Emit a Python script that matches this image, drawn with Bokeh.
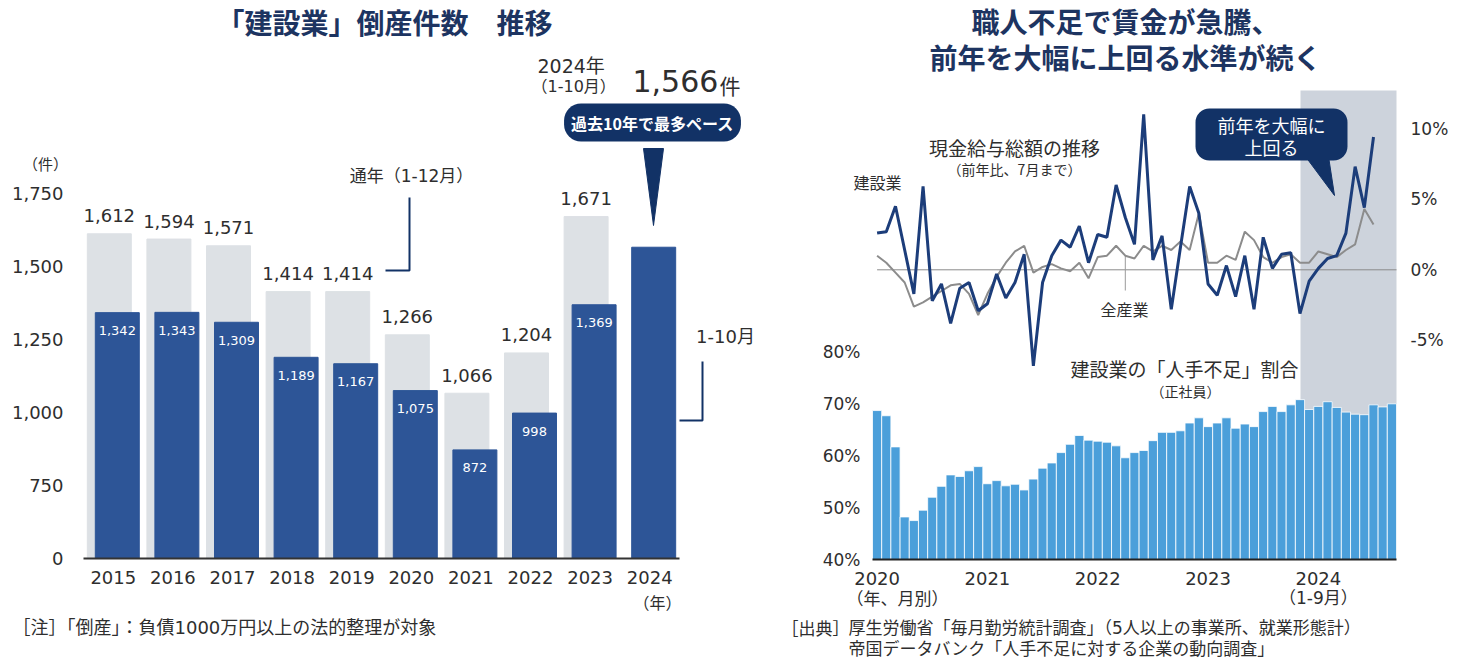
from bokeh.plotting import figure
from bokeh.models import Range1d, FixedTicker, Label, BoxAnnotation, LinearAxis, NumeralTickFormatter
from bokeh.layouts import row
from bokeh.embed import file_html
from bokeh.resources import INLINE
from bokeh.core.properties import value
import numpy as np

JP = "Noto Sans CJK JP"
NUM = "'DejaVu Sans', 'Noto Sans CJK JP'"
NAVY = "#123266"
TITLE_C = "#1d3461"
TXT = "#2e2e2e"

# ---------------- data: left chart ----------------
years = ["2015", "2016", "2017", "2018", "2019", "2020", "2021", "2022", "2023", "2024"]
full_year = [1612, 1594, 1571, 1414, 1414, 1266, 1066, 1204, 1671]          # 通年 (1-12月), 2015-2023
jan_oct = [1342, 1343, 1309, 1189, 1167, 1075, 872, 998, 1369, 1566]       # 1-10月
left_ticks = [500, 750, 1000, 1250, 1500, 1750]   # broken axis: the 500 position is labelled 0

# ---------------- data: right chart ----------------
tick_years = ["2020", "2021", "2022", "2023", "2024"]
wage_construction = [2.6, 2.7, 4.5, 1.4, -1.7, 5.9, -2.2, -1.0, -3.8, -1.3, -0.9, -2.9,
                     -2.4, -0.3, -2.0, -0.9, 1.1, -6.8, -0.9, 1.0, 2.1, 1.6, 3.1, 0.5,
                     2.5, 2.3, 6.0, 3.7, 1.8, 11.0, 0.7, 2.4, -2.8, 1.6, 5.9, 4.0,
                     -1.0, -1.8, 0.3, -1.9, 1.0, -2.8, 2.3, 0.1, 1.1, 1.2, -3.1, -0.8,
                     0.1, 0.8, 1.0, 2.6, 7.3, 4.4, 9.4]
wage_all = [1.0, 0.5, -0.2, -0.9, -2.6, -2.3, -1.9, -1.5, -1.1, -1.0, -1.7, -3.2,
            -1.7, -0.5, 0.5, 1.3, 1.7, -0.2, 0.2, 0.4, 0.1, -0.1, 0.5, -0.6,
            0.9, 1.0, 1.7, 1.0, 0.8, 1.7, 1.3, 1.7, 1.4, 2.0, 1.4, 4.0,
            0.5, 0.5, 1.0, 0.7, 2.7, 2.1, 0.9, 0.5, 0.9, 1.1, 0.5, 0.5,
            1.3, 1.1, 0.9, 1.4, 1.8, 4.3, 3.2]
shortage = [68.7, 67.7, 61.7, 48.2, 47.5, 49.5, 52.0, 54.1, 56.3, 56.0, 57.1, 57.9,
            54.6, 55.2, 54.2, 54.5, 53.4, 55.5, 57.6, 58.6, 60.6, 62.2, 63.9, 63.0,
            62.8, 62.6, 61.9, 59.6, 60.6, 61.0, 62.9, 64.5, 64.5, 64.8, 66.3, 67.3,
            65.6, 66.3, 67.3, 65.3, 66.1, 65.6, 68.5, 69.5, 68.5, 69.8, 70.8, 68.9,
            69.5, 70.4, 69.3, 68.4, 68.0, 67.9, 69.8, 69.4, 70.0]
pct_ticks = [40, 50, 60, 70, 80]
chg_ticks = [-5, 0, 5, 10]

H = 665
W1 = 780
W2 = 1457 - W1


def style_axis(ax, size="18px", font=NUM):
    ax.major_tick_line_color = None
    ax.minor_tick_line_color = None
    ax.major_tick_out = 0
    ax.major_tick_in = 0
    ax.minor_tick_out = 0
    ax.minor_tick_in = 0
    ax.major_label_text_font = font
    ax.major_label_text_font_size = size
    ax.major_label_text_color = TXT


def lab(p, x, y, text, size, color=TXT, align="center", baseline="middle", bold=False, font=JP, **kw):
    p.add_layout(Label(x=x, y=y, text=text, text_font=font, text_font_size=size, text_color=color,
                       text_align=align, text_baseline=baseline,
                       text_font_style="bold" if bold else "normal", **kw))


# =================== LEFT FIGURE ===================
PX_PER_UNIT = 73 / 250
CAT_PX = 59.6


def lx(px):
    return (px - 83) / CAT_PX


def ly1(py):
    return 500 + (558 - py) / PX_PER_UNIT


p1 = figure(width=W1, height=H, x_range=Range1d(lx(0), lx(W1)), y_range=Range1d(ly1(H), ly1(0)),
            output_backend="svg", toolbar_location=None,
            min_border_left=0, min_border_right=0, min_border_top=0, min_border_bottom=0)
p1.outline_line_color = None
p1.grid.grid_line_color = None

xc = np.arange(len(years)) + 0.5
gx = xc[:len(full_year)] - 0.067
bx = xc + 0.067
p1.vbar(x=gx, top=full_year, bottom=left_ticks[0], width=0.738, color="#dde1e5")
p1.vbar(x=bx, top=jan_oct, bottom=left_ticks[0], width=0.738, color="#2d5597")
p1.text(x=gx, y=full_year, text=[f"{v:,}" for v in full_year], text_align="center",
        text_baseline="alphabetic", y_offset=-18, text_font=value(NUM),
        text_font_size="18px", text_color=TXT)
p1.text(x=bx[:-1], y=jan_oct[:-1], text=[f"{v:,}" for v in jan_oct[:-1]], text_align="center",
        text_baseline="alphabetic", y_offset=18, text_font=value(NUM),
        text_font_size="13px", text_color="white")

xa = p1.xaxis[0]
xa.fixed_location = left_ticks[0]
xa.ticker = FixedTicker(ticks=list(xc))
xa.major_label_overrides = {float(x): y for x, y in zip(xc, years)}
xa.bounds = (0, len(years))
xa.axis_line_color = "#333333"
xa.axis_line_width = 2
xa.major_label_standoff = 12
style_axis(xa)

ya = p1.yaxis[0]
ya.fixed_location = 0
ya.ticker = FixedTicker(ticks=left_ticks)
ya.formatter = NumeralTickFormatter(format="0,0")
ya.major_label_overrides = {left_ticks[0]: "0"}
ya.axis_line_color = None
ya.major_label_standoff = 20
style_axis(ya)

lab(p1, lx(384), ly1(21), "「建設業」倒産件数　推移", "28px", TITLE_C, bold=True)
lab(p1, lx(45), ly1(163), "（件）", "15px")
lab(p1, lx(411), ly1(175), "通年（1-12月）", "17px", font=NUM)
p1.line([lx(385), lx(409), lx(409)], [ly1(270), ly1(270), ly1(197)], line_color=NAVY, line_width=2)
lab(p1, lx(725), ly1(336), "1-10月", "18px", font=NUM)
p1.line([lx(679), lx(702), lx(702)], [ly1(420), ly1(420), ly1(361)], line_color=NAVY, line_width=2)
lab(p1, lx(537), ly1(65), "2024年", "19px", align="left", font=NUM)
lab(p1, lx(531), ly1(86), "（1-10月）", "16px", align="left", font=NUM)
lab(p1, lx(632), ly1(80), f"{jan_oct[-1]:,}", "30px", align="left", font=NUM)
lab(p1, lx(719), ly1(84), "件", "21px", align="left")
lab(p1, lx(652), ly1(122), "過去10年で最多ペース", "16px", "white", bold=True,
    background_fill_color=NAVY, border_radius=17, padding=7)
p1.patch([lx(643), lx(663), lx(653)], [ly1(148), ly1(148), ly1(225)], color=NAVY)
lab(p1, lx(657), ly1(601), "（年）", "16px")
lab(p1, lx(12), ly1(627), "［注］「倒産」：負債1000万円以上の法的整理が対象", "18px", align="left", font=NUM)

# =================== RIGHT FIGURE ===================
BPX = 5.19      # px per % (bars)
LPX = 14.13     # px per % (lines)
ZERO_PY = 269.3
BAR_PX = 9.193


def rx(px):
    return (px - 872) / BAR_PX - 0.5


def rby(py):
    return 40 + (559 - py) / BPX


def rly(py):
    return (ZERO_PY - py) / LPX


p2 = figure(width=W2, height=H, x_range=Range1d(rx(W1), rx(1457)), y_range=Range1d(rby(H), rby(0)),
            output_backend="svg", toolbar_location=None,
            min_border_left=0, min_border_right=0, min_border_top=0, min_border_bottom=0)
p2.extra_y_ranges = {"chg": Range1d(rly(H), rly(0))}
p2.outline_line_color = None
p2.grid.grid_line_color = None

x_end = len(shortage) - 0.5
p2.add_layout(BoxAnnotation(left=rx(1300), right=x_end, top=rby(90), bottom=pct_ticks[0],
                            fill_color="#cdd3dc", fill_alpha=1, line_color=None, level="underlay"))

mi = np.arange(len(shortage))
p2.vbar(x=mi, top=shortage, bottom=pct_ticks[0], width=1.0, fill_color="#4b9fda",
        line_color="white", line_width=0.8)

li = np.arange(len(wage_construction))
p2.segment(x0=[0], y0=[0], x1=[x_end], y1=[0], y_range_name="chg",
           line_color="#8a8a8a", line_width=1)
p2.segment(x0=[27], y0=[wage_all[27]], x1=[27], y1=[rly(290)], y_range_name="chg",
           line_color="#9a9a9a", line_width=1)
p2.line(li, wage_all, y_range_name="chg", line_color="#8c8c8c", line_width=2)
p2.line(li, wage_construction, y_range_name="chg", line_color="#1c3d7a", line_width=3)

# callout
p2.patch([rx(1305), rx(1328), rx(1334)], [rly(156), rly(156), rly(195)], y_range_name="chg", color=NAVY)
p2.add_layout(BoxAnnotation(left=rx(1195), right=rx(1347), top=rly(108), bottom=rly(160),
                            y_range_name="chg", fill_color=NAVY, fill_alpha=1, line_color=None,
                            border_radius=14))
lab(p2, rx(1271), rly(124), "前年を大幅に", "18px", "white", y_range_name="chg")
lab(p2, rx(1271), rly(146), "上回る", "18px", "white", y_range_name="chg")

lab(p2, rx(1125), rby(20), "職人不足で賃金が急騰、", "28px", TITLE_C, bold=True)
lab(p2, rx(1125), rby(56), "前年を大幅に上回る水準が続く", "28px", TITLE_C, bold=True)
lab(p2, rx(877), rly(181), "建設業", "16px", y_range_name="chg")
lab(p2, rx(1014), rly(147), "現金給与総額の推移", "19px", y_range_name="chg")
lab(p2, rx(1014), rly(168), "（前年比、7月まで）", "14px", y_range_name="chg")
lab(p2, rx(1124), rly(308), "全産業", "16px", y_range_name="chg")
lab(p2, rx(1184), rby(368), "建設業の「人手不足」割合", "19px")
lab(p2, rx(1185), rby(390), "（正社員）", "14px")
lab(p2, rx(846), rby(597), "（年、月別）", "17px", align="left")
lab(p2, 48, rby(597), "（1-9月）", "17px", font=NUM)
lab(p2, rx(781), rby(627), "［出典］", "17px", align="left")
lab(p2, rx(848), rby(627), "厚生労働省「毎月勤労統計調査」（5人以上の事業所、就業形態計）", "17px",
    align="left", font=NUM)
lab(p2, rx(848), rby(647), "帝国データバンク「人手不足に対する企業の動向調査」", "17px", align="left")

# axes
xb = p2.xaxis[0]
xb.fixed_location = pct_ticks[0]
year_pos = [float(i) for i in range(0, len(shortage), 12)]
xb.ticker = FixedTicker(ticks=year_pos)
xb.major_label_overrides = {x: y for x, y in zip(year_pos, tick_years)}
xb.bounds = (-0.5, x_end)
xb.axis_line_color = "#222222"
xb.axis_line_width = 2
xb.major_label_standoff = 12
style_axis(xb)

yl = p2.yaxis[0]
yl.fixed_location = -0.5
yl.ticker = FixedTicker(ticks=pct_ticks)
yl.major_label_overrides = {t: f"{t}%" for t in pct_ticks}
yl.axis_line_color = None
yl.major_label_standoff = 12
style_axis(yl, "17px")

yr = LinearAxis(y_range_name="chg", ticker=FixedTicker(ticks=chg_ticks), fixed_location=x_end,
                major_label_overrides={t: f"{t}%" for t in chg_ticks})
yr.axis_line_color = None
yr.major_label_standoff = 14
style_axis(yr, "17px")
p2.add_layout(yr, "right")

layout = row(p1, p2)
open("out.html", "w").write(file_html(layout, INLINE))
